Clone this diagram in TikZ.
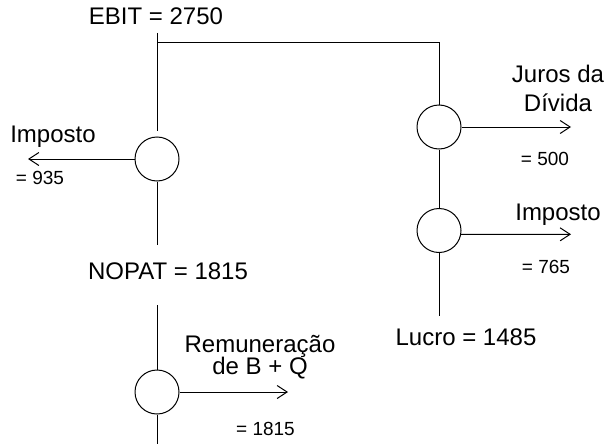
\documentclass[tikz,border=0pt]{standalone}
\usepackage{fontspec}
\setmainfont{Liberation Sans}
\usetikzlibrary{arrows.meta}

\begin{document}
\begin{tikzpicture}[x=0.5pt,y=-0.5pt,line width=0.5pt,
  flow/.style={circle,draw,minimum size=22pt,inner sep=0pt},
  lbl/.style={anchor=base,inner sep=0pt,align=center,font=\fontsize{12}{14.5}\selectfont},
  val/.style={anchor=base,inner sep=0pt,font=\fontsize{9.5}{11}\selectfont},
  outflow/.style={-{Straight Barb[length=5pt,width=6.5pt]}}]
  \useasboundingbox (0,0) rectangle (608,444);
  % circles
  \node[flow] (imp1) at (157,159) {};
  \node[flow] (rem) at (157,392) {};
  \node[flow] (juros) at (439,127) {};
  \node[flow] (imp2) at (439,230.5) {};
  % free ends of the lines
  \coordinate (ebit) at (157,33);
  \coordinate (gap) at (157,131);
  \coordinate (split) at (157,43);
  \coordinate (corner) at (439,43);
  \coordinate (nopatup) at (157,245);
  \coordinate (nopatdown) at (157,305);
  \coordinate (bottom) at (157,444);
  \coordinate (lucro) at (439,316);
  \coordinate (impend) at (28,159);
  \coordinate (remend) at (288,392);
  \coordinate (jurosend) at (571,127);
  \coordinate (imp2end) at (571,234.3);
  % lines
  \draw (ebit) -- (gap);
  \draw (split) -- (corner) -- (juros.north);
  \draw (imp1.south) -- (nopatup);
  \draw (nopatdown) -- (rem.north);
  \draw (rem.south) -- (bottom);
  \draw (juros.south) -- (imp2.north);
  \draw (imp2.south) -- (lucro);
  \draw[outflow] (imp1.west) -- (impend);
  \draw[outflow] (rem.east) -- (remend);
  \draw[outflow] (juros.east) -- (jurosend);
  \draw[outflow] (imp2.-10) -- (imp2end);
  % labels (multi-line ones sit on their last baseline)
  \node[lbl] (tebit) at (156,25) {EBIT = 2750};
  \node[lbl] (tnopat) at (168,279) {NOPAT = 1815};
  \node[lbl] (tlucro) at (466,345) {Lucro = 1485};
  \node[lbl] (timp1) at (53,142) {Imposto};
  \node[lbl] (timp2) at (558,220) {Imposto};
  \node[lbl] (tjuros) at (558,112) {Juros da\\Dívida};
  \node[lbl] (trem) at (260,374) {Remuneração\\[-3.5pt]de B + Q};
  \node[val] (vimp1) at (40,184) {= 935};
  \node[val] (vjuros) at (545,165) {= 500};
  \node[val] (vimp2) at (546,273) {= 765};
  \node[val] (vrem) at (265.5,435) {= 1815};
\end{tikzpicture}
\end{document}
